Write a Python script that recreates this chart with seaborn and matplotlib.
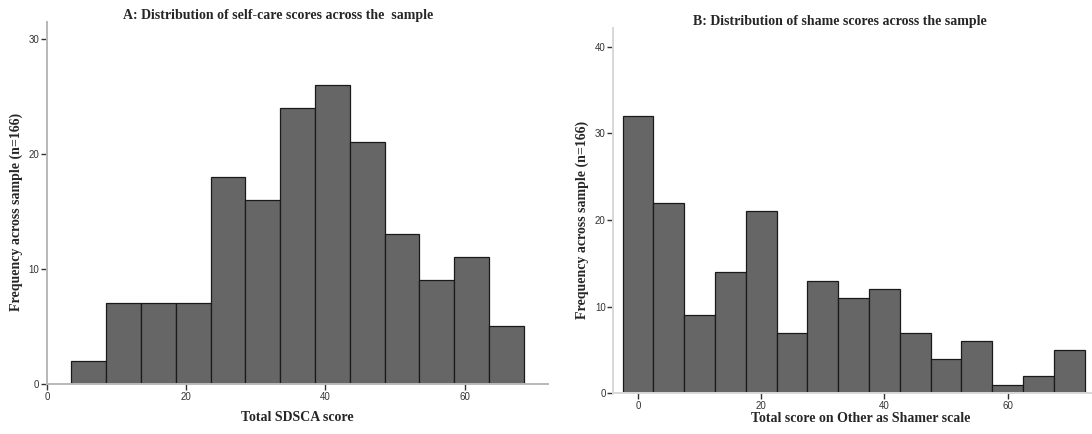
import numpy as np
import pandas as pd
import seaborn as sns
import matplotlib.pyplot as plt

# bin centres (width 5) and counts
selfcare_centres = [6, 11, 16, 21, 26, 31, 36, 41, 46, 51, 56, 61, 66]
selfcare_counts = [2, 7, 7, 7, 18, 16, 24, 26, 21, 13, 9, 11, 5]

shame_centres = [0, 5, 10, 15, 20, 25, 30, 35, 40, 45, 50, 55, 60, 65, 70]
shame_counts = [32, 22, 9, 14, 21, 7, 13, 11, 12, 7, 4, 6, 1, 2, 5]

selfcare_ticks = [0, 20, 40, 60]
selfcare_yticks = [0, 10, 20, 30]
shame_ticks = [0, 20, 40, 60]
shame_yticks = [0, 10, 20, 30, 40]

ylabel = "Frequency across sample (n=166)"

sns.set_style("ticks")
plt.rcParams["font.family"] = ["Liberation Sans", "DejaVu Sans"]

df_a = pd.DataFrame({"score": selfcare_centres, "n": selfcare_counts})
df_b = pd.DataFrame({"score": shame_centres, "n": shame_counts})

fig = plt.figure(figsize=(10.92, 4.34), dpi=100)
ax_a = fig.add_axes([0.0430, 0.1152, 0.4590, 0.8348])
ax_b = fig.add_axes([0.5616, 0.0938, 0.4384, 0.8410])

serif = dict(family="Liberation Serif", fontweight="bold")

def draw(ax, df, xlim, ylim, xt, yt, spine_col):
    sns.histplot(data=df, x="score", weights="n", binwidth=5,
                 binrange=(df.score.min() - 2.5, df.score.max() + 2.5),
                 color="#666666", edgecolor="#1a1a1a", linewidth=0.9,
                 alpha=1, ax=ax)
    ax.set_xlim(*xlim)
    ax.set_ylim(*ylim)
    ax.set_xticks(xt)
    ax.set_yticks(yt)
    ax.tick_params(axis="both", labelsize=7, colors="#333333", length=4,
                   width=1, pad=1.5)
    for s in ["top", "right"]:
        ax.spines[s].set_visible(False)
    for s in ["left", "bottom"]:
        ax.spines[s].set_color(spine_col)
        ax.spines[s].set_linewidth(1.4)

draw(ax_a, df_a, (0, 72), (0, 31.5), selfcare_ticks, selfcare_yticks, "#b8b8b8")
draw(ax_b, df_b, (-4.0, 73.7), (0, 42.1), shame_ticks, shame_yticks, "#d8d8d8")

ax_a.set_title("A: Distribution of self-care scores across the  sample",
               x=0.462, pad=0.5, fontsize=10, **serif)
ax_b.set_title("B: Distribution of shame scores across the sample",
               x=0.474, pad=-2, fontsize=10, **serif)

ax_a.set_xlabel("Total SDSCA score", fontsize=10, **serif)
ax_b.set_xlabel("Total score on Other as Shamer scale", fontsize=10, **serif)
ax_a.xaxis.set_label_coords(0.50, -0.075)
ax_b.xaxis.set_label_coords(0.516, -0.050)

for ax, xc, yc in [(ax_a, -0.062, 0.475), (ax_b, -0.065, 0.475)]:
    ax.set_ylabel(ylabel, fontsize=10, **serif)
    ax.yaxis.label.set_va("center")
    ax.yaxis.set_label_coords(xc, yc)

fig.savefig("out.png", dpi=100)
